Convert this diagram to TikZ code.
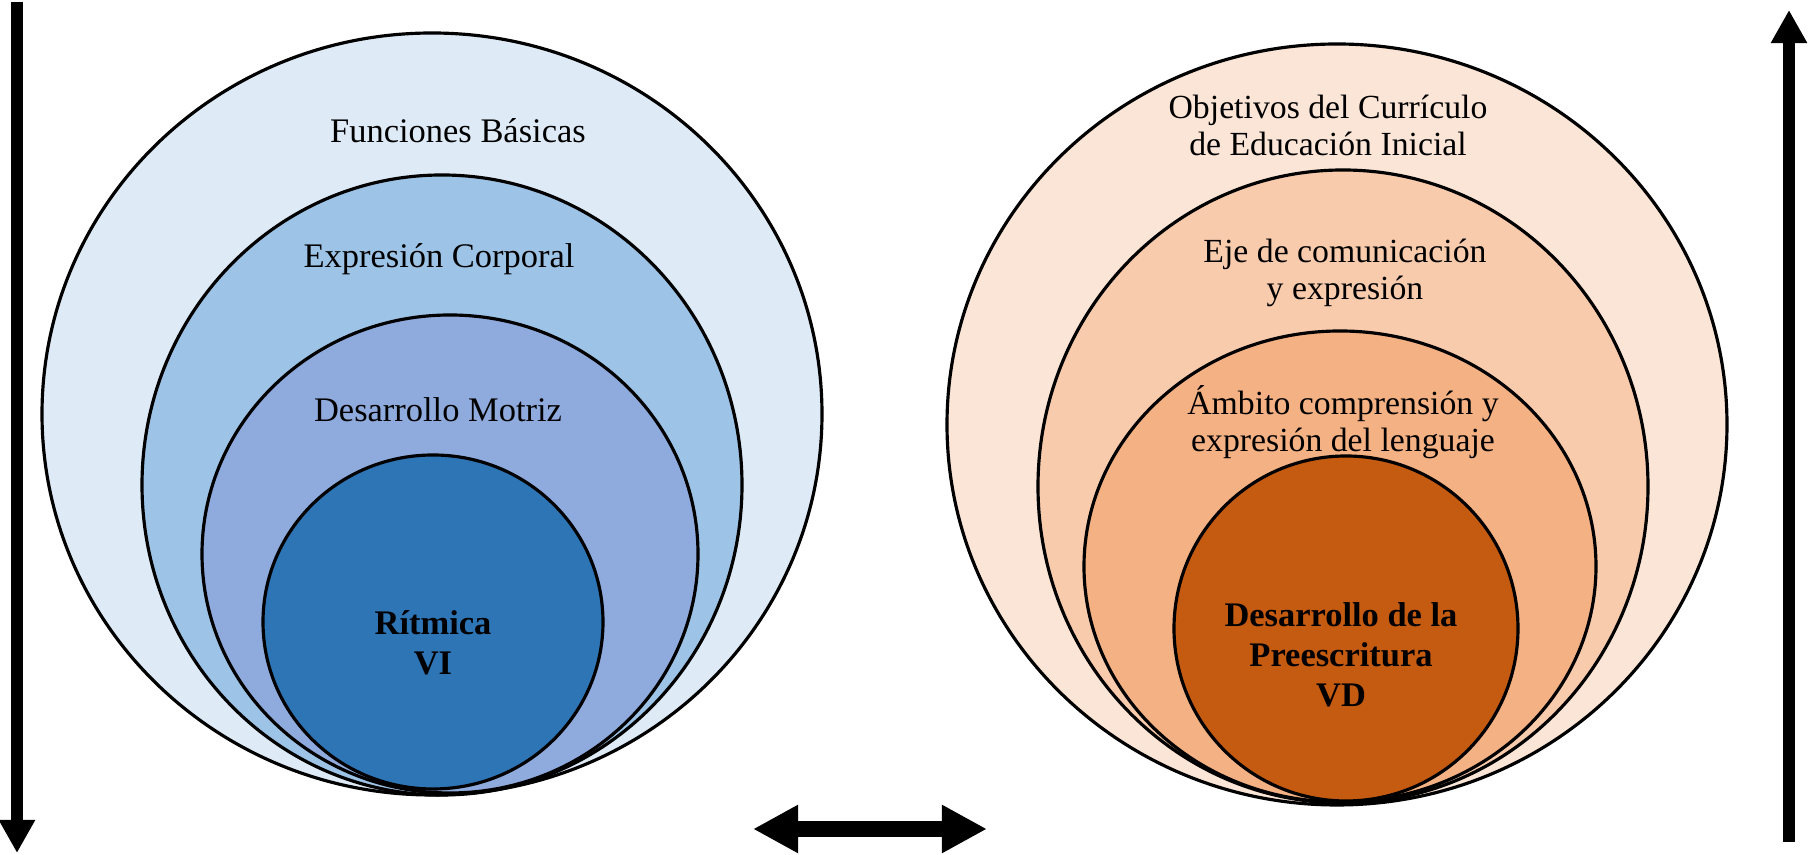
\documentclass[tikz,border=0pt]{standalone}
\usepackage{fontspec}
\setmainfont{Liberation Serif}
\usepackage{xcolor}
\usepackage{tikz}
\usetikzlibrary{positioning, arrows.meta, calc}
\definecolor{blueA}{HTML}{DEEBF7}
\definecolor{blueB}{HTML}{9DC3E6}
\definecolor{blueC}{HTML}{8FAADC}
\definecolor{blueD}{HTML}{2E75B6}
\definecolor{orangeA}{HTML}{FBE5D6}
\definecolor{orangeB}{HTML}{F8CBAD}
\definecolor{orangeC}{HTML}{F4B183}
\definecolor{orangeD}{HTML}{C55A11}

\begin{document}
\begin{tikzpicture}[
  x=0.01cm, y=0.01cm,
  ring/.style={draw=black, line width=0.9pt},
  ringtext/.style={align=center, anchor=base, inner sep=0pt,
              font=\fontsize{9.8}{10.6}\selectfont},
  goaltext/.style={ringtext, font=\fontsize{9.6}{10.6}\selectfont},
  coretext/.style={align=center, anchor=base, inner sep=0pt,
              font=\fontsize{9.8}{11.4}\selectfont\bfseries},
  bigarrow/.style={line width=3.4pt, -{Triangle[length=9.4pt, width=9.7pt]}},
  twoarrow/.style={line width=4.8pt,
              {Triangle[length=12.8pt, width=12.8pt]}-{Triangle[length=12.8pt, width=12.8pt]}}
]
  \useasboundingbox (0,0) rectangle (1808,855);

  % Left set: VI
  \filldraw[ring, fill=blueA] (432,441) ellipse [x radius=390, y radius=381];
  \filldraw[ring, fill=blueB] (442,370) ellipse [x radius=300, y radius=310];
  \filldraw[ring, fill=blueC] (450,301) ellipse [x radius=248, y radius=239];
  \filldraw[ring, fill=blueD] (433,233) ellipse [x radius=170, y radius=167];
  \node[ringtext] (fb) at (458,712) {Funciones Básicas};
  \node[ringtext] (ec) at (439,587) {Expresión Corporal};
  \node[ringtext] (dm) at (438,433) {Desarrollo Motriz};
  \node[coretext] (rit) at (433,180) {Rítmica\\VI};

  % Right set: VD
  \filldraw[ring, fill=orangeA] (1337,430.5) ellipse [x radius=390, y radius=380.5];
  \filldraw[ring, fill=orangeB] (1343,368.5) ellipse [x radius=305, y radius=316.5];
  \filldraw[ring, fill=orangeC] (1340,288.5) ellipse [x radius=256, y radius=235.5];
  \filldraw[ring, fill=orangeD] (1346,226.5) ellipse [x radius=172, y radius=172.5];
  \node[goaltext] (obj) at (1328,699) {Objetivos del Currículo\\de Educación Inicial};
  \node[goaltext] (eje) at (1345,555) {Eje de comunicación\\y expresión};
  \node[goaltext] (amb) at (1343,403) {Ámbito comprensión y\\expresión del lenguaje};
  \node[coretext] (pre) at (1341,148) {Desarrollo de la\\Preescritura\\VD};

  % Arrows
  \coordinate (downtop) at (17,853);
  \coordinate (downend) at (17,2);
  \coordinate (upbot) at (1789,13);
  \coordinate (uptop) at (1789,845);
  \coordinate (linkl) at (753,26);
  \coordinate (linkr) at (987,26);
  \draw[bigarrow] (downtop) -- (downend);
  \draw[bigarrow] (upbot) -- (uptop);
  \draw[twoarrow] (linkl) -- (linkr);
\end{tikzpicture}
\end{document}
